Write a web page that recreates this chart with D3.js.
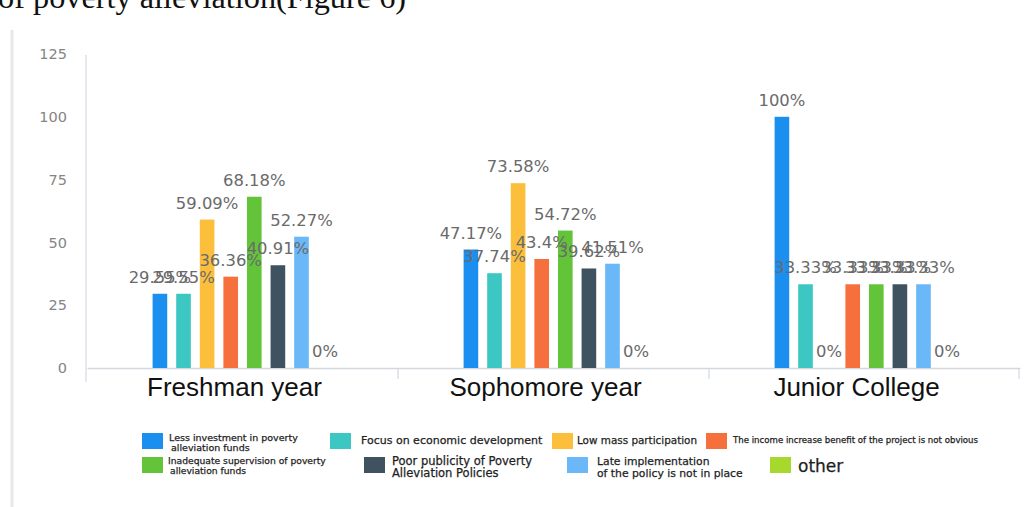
<!DOCTYPE html>
<html>
<head>
<meta charset="utf-8">
<script src="https://cdn.jsdelivr.net/npm/d3@7/dist/d3.min.js"></script>
<style>
  html, body { margin: 0; padding: 0; background: #ffffff; }
  svg { display: block; }
</style>
</head>
<body>
<svg id="chart" width="1025" height="507"></svg>
<script>
// Grade levels on the x axis
const categories = ["Freshman year", "Sophomore year", "Junior College"];

// Reasons (one bar per reason in every group)
const seriesNames = [
  "Less investment in poverty\nalleviation funds",
  "Focus on economic development",
  "Low mass participation",
  "The income increase benefit of the project is not obvious",
  "Inadequate supervision of poverty\nalleviation funds",
  "Poor publicity of Poverty\nAlleviation Policies",
  "Late implementation\nof the policy is not in place",
  "other"
];

// Percentages per grade, in the order of seriesNames
const freshmanValues  = [29.55, 29.55, 59.09, 36.36, 68.18, 40.91, 52.27, 0];
const sophomoreValues = [47.17, 37.74, 73.58, 43.4, 54.72, 39.62, 41.51, 0];
const juniorValues    = [100, 33.33, 0, 33.33, 33.33, 33.33, 33.33, 0];

const yTicks = [0, 25, 50, 75, 100, 125];

const colors = ["#1a8ff0", "#3cc7c3", "#fbbf3c", "#f6703e", "#63c43a", "#3f5260", "#6ab8f7", "#a6d82e"];

// Legend placement: swatch corner, text offset and font size for each entry
const legendLayout = [
  { x: 142, y: 433, tx: 169, ty: 441, fs: 9.5, lh: 10 },
  { x: 330, y: 433, tx: 361, ty: 444, fs: 11, lh: 12 },
  { x: 552, y: 433, tx: 577, ty: 444, fs: 10.4, lh: 12 },
  { x: 706, y: 433, tx: 733, ty: 443, fs: 8.6, lh: 10 },
  { x: 142, y: 457, tx: 168, ty: 464, fs: 9.2, lh: 10 },
  { x: 364, y: 457, tx: 392, ty: 465, fs: 11.5, lh: 12 },
  { x: 567, y: 457, tx: 597, ty: 465, fs: 10.8, lh: 11.5 },
  { x: 770, y: 457, tx: 798, ty: 472, fs: 17, lh: 18 }
];

const groups = [freshmanValues, sophomoreValues, juniorValues];
const rows = categories.map((c, i) => ({ category: c, values: groups[i] }));

const svg = d3.select("#chart");

// Caption line from the surrounding document, partly cut off at the top
svg.append("text")
  .attr("x", -2).attr("y", 8)
  .attr("font-family", "Liberation Serif, Times New Roman, serif")
  .attr("font-size", 32.3)
  .attr("fill", "#111")
  .text("of poverty alleviation(Figure 6)");

// Left frame edge
svg.append("line")
  .attr("x1", 12).attr("x2", 12).attr("y1", 30).attr("y2", 507)
  .attr("stroke", "#e8e8e8").attr("stroke-width", 3);

const x0 = d3.scaleBand().domain(categories).range([87, 1020]).padding(0);
const x1 = d3.scaleBand().domain(d3.range(seriesNames.length))
  .range([0, x0.bandwidth()]).paddingInner(0.38).paddingOuter(2.78);
const y = d3.scaleLinear().domain([0, 125]).range([368, 54]);

// Y axis
const yAxis = svg.append("g").attr("transform", "translate(86,0)")
  .call(d3.axisLeft(y).tickValues(yTicks).tickSize(0).tickPadding(19));
yAxis.select(".domain").remove();
yAxis.selectAll("text")
  .attr("font-family", "DejaVu Sans, sans-serif")
  .attr("font-size", 14.5)
  .attr("fill", "#858585");
svg.append("line")
  .attr("x1", 86).attr("x2", 86).attr("y1", 55).attr("y2", 382)
  .attr("stroke", "#dde1e9").attr("stroke-width", 1.5);

// X axis
const xAxis = svg.append("g").attr("transform", "translate(0,368)")
  .call(d3.axisBottom(x0).tickSize(0).tickPadding(0));
xAxis.select(".domain").attr("stroke", "#d3d7de").attr("stroke-width", 1.5);
xAxis.selectAll("text").remove();
svg.append("g").selectAll("line")
  .data(categories.slice(1).map(c => x0(c)).concat([1019]))
  .join("line")
  .attr("x1", d => d).attr("x2", d => d)
  .attr("y1", 368).attr("y2", 379)
  .attr("stroke", "#d3d7de").attr("stroke-width", 1.2);
svg.append("g").selectAll("text")
  .data(categories)
  .join("text")
  .attr("x", d => x0(d) + x0.bandwidth() / 2 - 8)
  .attr("y", 396)
  .attr("text-anchor", "middle")
  .attr("font-family", "Liberation Sans, Arial, sans-serif")
  .attr("font-size", 26)
  .attr("fill", "#111")
  .text(d => d);

// Bars and value labels
const g = svg.append("g").selectAll("g")
  .data(rows)
  .join("g")
  .attr("transform", d => `translate(${x0(d.category)},0)`);

g.selectAll("rect")
  .data(d => d.values.map((v, i) => ({ v, i })))
  .join("rect")
  .attr("x", d => x1(d.i))
  .attr("y", d => y(d.v))
  .attr("width", x1.bandwidth())
  .attr("height", d => y(0) - y(d.v))
  .attr("fill", d => colors[d.i]);

g.selectAll("text")
  .data(d => d.values.map((v, i) => ({ v, i })))
  .join("text")
  .attr("x", d => x1(d.i) + x1.bandwidth() / 2)
  .attr("y", d => y(d.v) - 11)
  .attr("text-anchor", "middle")
  .attr("font-family", "DejaVu Sans, sans-serif")
  .attr("font-size", 16.4)
  .attr("fill", "#6a6a6a")
  .text(d => d.v + "%");

// Legend
const lg = svg.append("g").selectAll("g")
  .data(seriesNames.map((name, i) => ({ name, i, L: legendLayout[i] })))
  .join("g");
lg.append("rect")
  .attr("x", d => d.L.x).attr("y", d => d.L.y)
  .attr("width", 21).attr("height", 16)
  .attr("fill", d => colors[d.i]);
lg.append("text")
  .attr("font-family", "DejaVu Sans, sans-serif")
  .attr("font-size", d => d.L.fs)
  .attr("fill", "#1e1e1e")
  .attr("stroke", "#1e1e1e")
  .attr("stroke-width", 0.25)
  .each(function (d) {
    const lines = d.name.split("\n");
    d3.select(this).selectAll("tspan")
      .data(lines)
      .join("tspan")
      .attr("x", (s, k) => d.L.tx + (k > 0 && d.i < 5 ? 2 : 0))
      .attr("y", (s, k) => d.L.ty + k * d.L.lh)
      .text(s => s);
  });
</script>
</body>
</html>
